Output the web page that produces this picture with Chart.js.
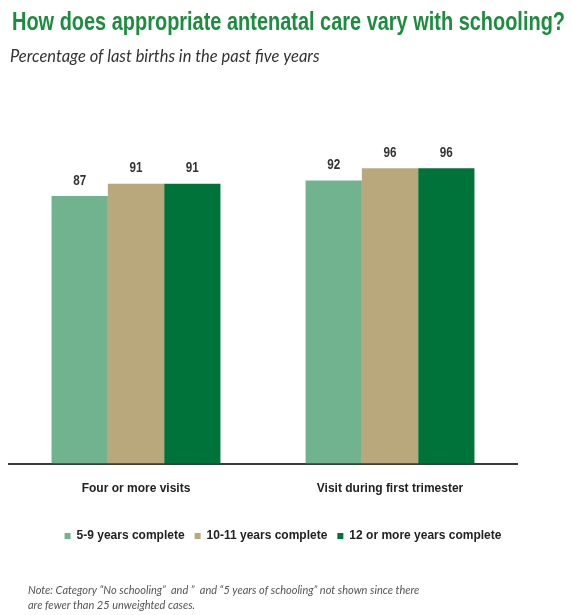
<!DOCTYPE html>
<html>
<head>
<meta charset="utf-8">
<script src="https://cdn.jsdelivr.net/npm/chart.js@4/dist/chart.umd.min.js"></script>
<style>
  html, body { margin: 0; padding: 0; background: #ffffff; }
  #wrap { position: relative; width: 572px; height: 615px; }
</style>
</head>
<body>
<div id="wrap"><canvas id="chart" width="572" height="615"></canvas></div>
<script>
// Categories and series (percent of last births in the past five years)
const categories = ["Four or more visits", "Visit during first trimester"];
const seriesNames = ["5-9 years complete", "10-11 years complete", "12 or more years complete"];
const years5to9 = [87, 92];
const years10to11 = [91, 96];
const years12plus = [91, 96];
const titleText = "How does appropriate antenatal care vary with schooling?";
const subtitleText = "Percentage of last births in the past five years";
const noteLines = [
  "Note: Category \u201cNo schooling\u201d  and \u201d  and \u201c5 years of schooling\u201d not shown since there",
  "are fewer than 25 unweighted cases."
];

const NARROW = '"Liberation Sans Narrow", "Arial Narrow", "Liberation Sans", Arial, sans-serif';
const ITALIC = 'Lato, "Open Sans", sans-serif';
const colors = ["#72b38f", "#b8a87c", "#00733a"];

// Heading drawn across the full canvas width, condensed to fit the line
const heading = {
  id: "heading",
  afterDraw(chart) {
    const ctx = chart.ctx;
    ctx.save();
    ctx.textAlign = "left";
    ctx.textBaseline = "alphabetic";
    ctx.fillStyle = "#1e8c3e";
    ctx.font = "bold 26px " + NARROW;
    ctx.fillText(titleText, 12, 30, 553);
    ctx.fillStyle = "#333333";
    ctx.font = "italic 16.5px " + ITALIC;
    ctx.fillText(subtitleText, 10, 62);
    ctx.restore();
  }
};

// Value labels above each bar, set in a condensed bold face
const valueLabels = {
  id: "valueLabels",
  afterDatasetsDraw(chart) {
    const ctx = chart.ctx;
    ctx.save();
    ctx.font = "bold 15px " + NARROW;
    ctx.fillStyle = "#333333";
    ctx.textAlign = "center";
    ctx.textBaseline = "bottom";
    chart.data.datasets.forEach((ds, i) => {
      chart.getDatasetMeta(i).data.forEach((bar, j) => {
        ctx.fillText(String(ds.data[j]), bar.x, bar.y - 8, 13);
      });
    });
    ctx.restore();
  }
};

// Nudge the legend box a little lower and to the right of its default slot
const legendShift = {
  id: "legendShift",
  afterLayout(chart) {
    const lg = chart.legend;
    if (!lg) return;
    const dx = 20, dy = 14;
    lg.left += dx; lg.right += dx;
    lg.top += dy; lg.bottom += dy;
  }
};

// Footnote under the legend
const footNote = {
  id: "footNote",
  afterDraw(chart) {
    const ctx = chart.ctx;
    ctx.save();
    ctx.font = "italic 11px " + ITALIC;
    ctx.fillStyle = "#555555";
    ctx.textAlign = "left";
    ctx.textBaseline = "middle";
    ctx.fillText(noteLines[0], 28, 590);
    ctx.fillText(noteLines[1], 28, 605);
    ctx.restore();
  }
};

new Chart(document.getElementById("chart"), {
  type: "bar",
  data: {
    labels: categories,
    datasets: [
      { label: seriesNames[0], data: years5to9, backgroundColor: colors[0] },
      { label: seriesNames[1], data: years10to11, backgroundColor: colors[1] },
      { label: seriesNames[2], data: years12plus, backgroundColor: colors[2] }
    ]
  },
  options: {
    responsive: false,
    animation: false,
    layout: { padding: { left: 9, right: 55, top: 156, bottom: 77 } },
    datasets: { bar: { categoryPercentage: 0.665, barPercentage: 1.0, borderWidth: 0 } },
    scales: {
      x: {
        grid: { display: false },
        border: { display: true, color: "#3a3a3a", width: 2 },
        ticks: { color: "#222222", font: { family: NARROW, size: 12, weight: "bold" }, padding: 10 }
      },
      y: {
        display: false,
        min: 0,
        max: 100
      }
    },
    plugins: {
      title: { display: false },
      subtitle: { display: false },
      legend: {
        position: "bottom",
        labels: {
          boxWidth: 6,
          boxHeight: 6,
          padding: 10,
          color: "#222222",
          font: { family: NARROW, size: 12, weight: "bold" }
        }
      },
      tooltip: { enabled: false }
    }
  },
  plugins: [heading, valueLabels, legendShift, footNote]
});
</script>
</body>
</html>
